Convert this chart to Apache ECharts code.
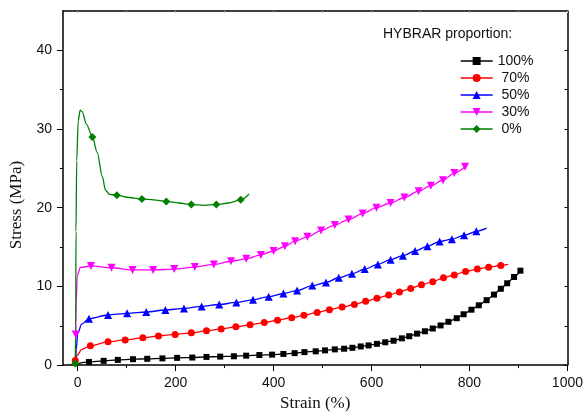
<!DOCTYPE html>
<html>
<head>
<meta charset="utf-8">
<script src="https://cdn.jsdelivr.net/npm/echarts@6/dist/echarts.min.js"></script>
<style>html,body{margin:0;padding:0;background:#fff}#c{width:586px;height:417px}</style>
</head>
<body>
<div id="c"></div>
<script>
// Series names
const seriesNames = ['100%', '70%', '50%', '30%', '0%'];
// Tick labels
const xTicks = [0, 200, 400, 600, 800, 1000];
const xMinorTicks = [100, 300, 500, 700, 900];
const yTicks = [0, 10, 20, 30, 40];
const yMinorTicks = [5, 15, 25, 35];

// 100% (marked points, [strain, stress])
const marks100 = [[23,0.4],[53,0.54],[82,0.66],[113,0.75],[142,0.8],[173,0.85],[203,0.92],[234,0.96],[263,1.04],[291,1.08],[319,1.12],[344,1.2],[371,1.28],[397,1.33],[420,1.42],[443,1.52],[463,1.65],[486,1.75],[505,1.87],[525,2.0],[544,2.08],[561,2.2],[578,2.37],[594,2.5],[611,2.7],[628,2.9],[645,3.1],[662,3.4],[677,3.67],[693,4.0],[709,4.3],[725,4.65],[741,5.04],[757,5.5],[774,5.96],[788,6.46],[804,7.04],[819,7.6],[835,8.25],[850,8.96],[864,9.7],[877,10.4],[891,11.2],[904,12.0]];
const curve100 = [[-4,0.1]];
// 70%
const marks70 = [[-5,0.6],[26,2.46],[62,2.96],[97,3.2],[133,3.46],[165,3.7],[199,3.9],[232,4.1],[263,4.37],[293,4.6],[323,4.87],[352,5.12],[381,5.4],[408,5.7],[437,6.02],[462,6.33],[489,6.7],[514,7.04],[540,7.37],[565,7.7],[588,8.1],[611,8.5],[635,8.9],[657,9.3],[680,9.75],[702,10.2],[725,10.6],[747,11.1],[769,11.45],[792,11.9],[816,12.2],[839,12.45],[864,12.66]];
const curve70 = [[0,1.3],[8,2.0],[879,12.8]];
// 50%
const marks50 = [[23,5.9],[62,6.37],[101,6.58],[140,6.75],[179,7.0],[217,7.2],[253,7.46],[289,7.7],[324,7.96],[358,8.3],[390,8.7],[420,9.1],[448,9.48],[479,10.1],[507,10.5],[533,11.1],[560,11.6],[586,12.2],[613,12.8],[639,13.4],[664,13.9],[689,14.5],[714,15.1],[739,15.7],[764,16.0],[789,16.5],[814,17.0]];
const curve50 = [[-4,0],[-3,2],[0,4],[8,5.2],[835,17.4]];
// 30%
const marks30 = [[-4,3.9],[27,12.6],[69,12.37],[112,12.1],[154,12.1],[197,12.2],[239,12.46],[278,12.8],[313,13.2],[344,13.5],[374,14.0],[400,14.5],[423,15.1],[444,15.75],[469,16.3],[497,17.1],[525,17.8],[553,18.5],[582,19.25],[610,20.0],[639,20.6],[667,21.3],[696,22.1],[721,22.8],[746,23.5],[769,24.4],[791,25.2]];
const curve30 = [[-3,8],[-1,11.3],[5,12.4]];
// 0%
const marks0 = [[-5,0.2],[30,29.0],[80,21.6],[131,21.1],[181,20.8],[232,20.4],[283,20.4],[333,21.0]];
const curve0 = [[-4,5],[-3.5,17],[-2,26],[1,31],[5,32.4],[9,32.2],[18,30.6],[40,27.0],[50,24.0],[57,22.2],[65,21.7],[105,21.3],[155,21.0],[207,20.6],[257,20.3],[308,20.6],[350,21.75]];

function build(marks, curve) {
  const pts = marks.map(p => ({ value: p }))
    .concat(curve.map(p => ({ value: p, symbol: 'none' })));
  pts.sort((a, b) => a.value[0] - b.value[0]);
  return pts;
}

const colors = ['#000000', '#ff0000', '#0000ff', '#ff00ff', '#008000'];
const symbols = ['rect', 'circle', 'triangle', 'triangle', 'diamond'];
const symRot = [0, 0, 0, 180, 0];
const symSize = [6, 7, 8, 8, 8];
const dataSets = [[marks100, curve100], [marks70, curve70], [marks50, curve50], [marks30, curve30], [marks0, curve0]];

const sans = 'Liberation Sans, Arial, sans-serif';
const serif = 'Liberation Serif, Times New Roman, serif';

const series = dataSets.map((d, i) => ({
  name: seriesNames[i],
  type: 'line',
  xAxisIndex: 0,
  yAxisIndex: 0,
  data: build(d[0], d[1]),
  smooth: 0.3,
  smoothMonotone: 'x',
  symbol: symbols[i],
  symbolRotate: symRot[i],
  symbolSize: symSize[i],
  showAllSymbol: true,
  color: colors[i],
  lineStyle: { color: colors[i], width: 1.3 },
  itemStyle: { color: colors[i] },
  emphasis: { disabled: true },
  animation: false
}));

const chart = echarts.init(document.getElementById('c'), null, { renderer: 'canvas' });
chart.setOption({
  animation: false,
  backgroundColor: '#ffffff',
  title: {
    text: 'HYBRAR proportion:',
    left: 383, top: 27, padding: 0,
    textStyle: { fontFamily: sans, fontSize: 14, fontWeight: 'normal', color: '#111' }
  },
  legend: {
    orient: 'vertical',
    left: 460, top: 54, padding: 0,
    itemWidth: 32, itemHeight: 10, itemGap: 3,
    lineStyle: { width: 1.3 },
    textStyle: { fontFamily: sans, fontSize: 14, color: '#111' },
    formatter: n => (n === '100%' ? n : ' ' + n),
    data: seriesNames
  },
  grid: { left: 63, right: 17, top: 11, bottom: 47, containLabel: false },
  xAxis: [
    {
      type: 'value', min: -30, max: 1000, position: 'bottom',
      name: 'Strain (%)', nameLocation: 'middle', nameGap: 25,
      nameTextStyle: { fontFamily: serif, fontSize: 17, color: '#111' },
      axisLine: { show: true, onZero: false, lineStyle: { color: '#000', width: 1.5 } },
      axisTick: { show: true, customValues: xTicks, length: 6, lineStyle: { color: '#000', width: 1 } },
      axisLabel: { customValues: xTicks, margin: 11, fontFamily: sans, fontSize: 14, color: '#111', formatter: v => String(v) },
      splitLine: { show: false }
    },
    {
      type: 'value', min: -30, max: 1000, position: 'bottom',
      axisLine: { show: false, onZero: false },
      axisTick: { show: true, customValues: xMinorTicks, length: 3, lineStyle: { color: '#000', width: 1 } },
      axisLabel: { show: false },
      splitLine: { show: false }
    },
    {
      type: 'value', min: -30, max: 1000, position: 'top',
      axisLine: { show: true, onZero: false, lineStyle: { color: '#000', width: 1.5 } },
      axisTick: { show: true, inside: true, customValues: xTicks.concat(xMinorTicks), length: 2, lineStyle: { color: '#bbb', width: 1 } },
      axisLabel: { show: false },
      splitLine: { show: false }
    }
  ],
  yAxis: [
    {
      type: 'value', min: 0, max: 45, position: 'left',
      name: 'Stress (MPa)', nameLocation: 'middle', nameGap: 37, nameRotate: 90,
      nameTextStyle: { fontFamily: serif, fontSize: 17, color: '#111', padding: [0, 34, 0, 0] },
      axisLine: { show: true, onZero: false, lineStyle: { color: '#000', width: 1.5 } },
      axisTick: { show: true, customValues: yTicks, length: 6, lineStyle: { color: '#000', width: 1 } },
      axisLabel: { customValues: yTicks, margin: 11, fontFamily: sans, fontSize: 14, color: '#111', formatter: v => String(v) },
      splitLine: { show: false }
    },
    {
      type: 'value', min: 0, max: 45, position: 'left',
      axisLine: { show: false, onZero: false },
      axisTick: { show: true, customValues: yMinorTicks, length: 3, lineStyle: { color: '#000', width: 1 } },
      axisLabel: { show: false },
      splitLine: { show: false }
    },
    {
      type: 'value', min: 0, max: 45, position: 'right',
      axisLine: { show: true, onZero: false, lineStyle: { color: '#000', width: 1.5 } },
      axisTick: { show: true, inside: true, customValues: yMinorTicks.concat(yTicks), length: 3, lineStyle: { color: '#000', width: 1 } },
      axisLabel: { show: false },
      splitLine: { show: false }
    }
  ],
  series: series
});
</script>
</body>
</html>
